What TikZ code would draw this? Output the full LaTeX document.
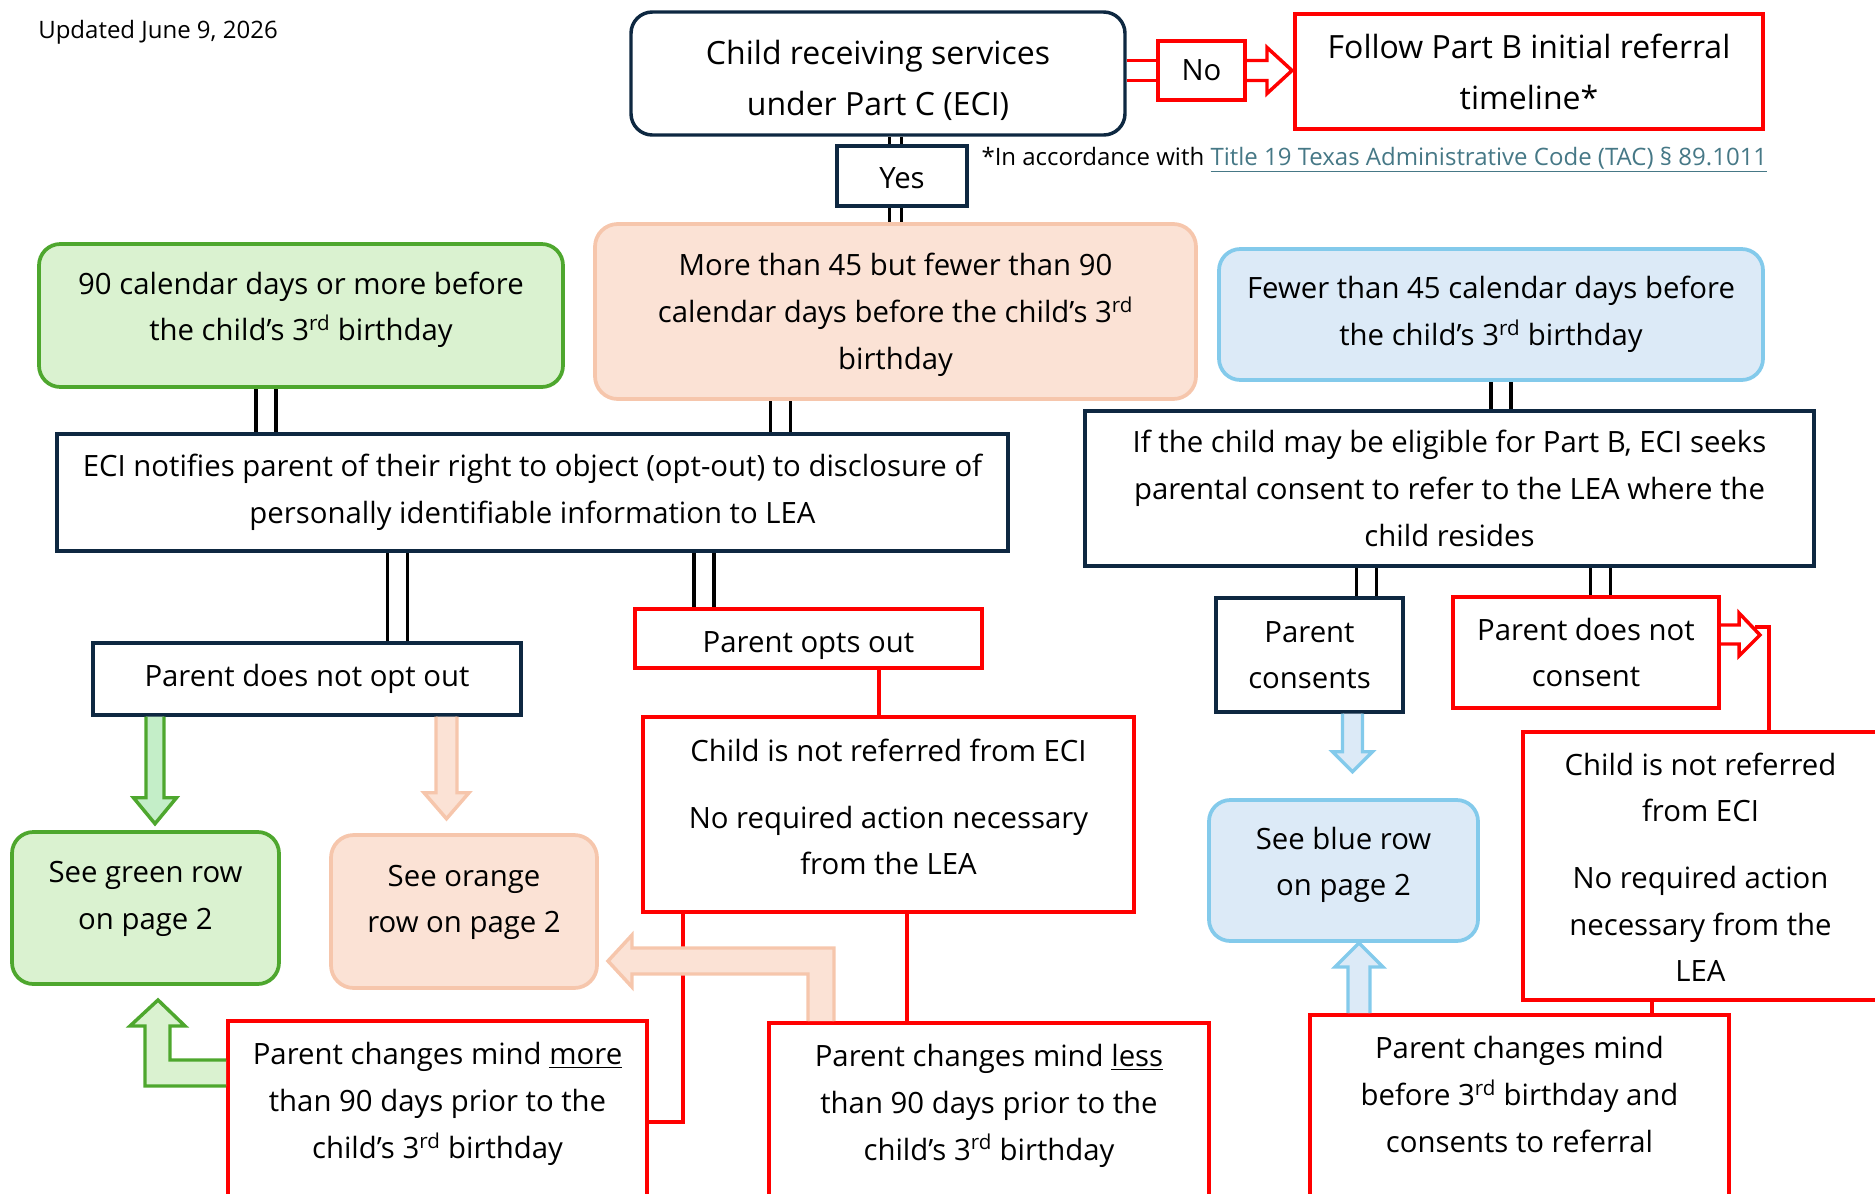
\documentclass[tikz,border=0pt]{standalone}
\usepackage{fontspec}
\setmainfont{Open Sans}
\usetikzlibrary{calc,backgrounds}

\definecolor{navy}{RGB}{14,40,65}
\definecolor{grnline}{RGB}{78,167,46}
\definecolor{grnfill}{RGB}{218,242,208}
\definecolor{grnarrow}{RGB}{196,238,200}
\definecolor{orgline}{RGB}{246,198,172}
\definecolor{orgfill}{RGB}{251,226,213}
\definecolor{bluline}{RGB}{131,202,235}
\definecolor{blufill}{RGB}{220,234,247}
\definecolor{link}{RGB}{70,120,134}

\newcommand{\boxfont}{\fontsize{22}{35}\selectfont}
\newcommand{\headfont}{\fontsize{24}{38.5}\selectfont}
\newcommand{\notefont}{\fontsize{18}{22}\selectfont}
\newcommand{\rd}{3\textsuperscript{rd}}
% move a stack of centred lines up or down, keeping the box size
\newcommand{\lift}[2]{\raisebox{#1}[\height][\depth]{\begin{tabular}{@{}c@{}}#2\end{tabular}}}

\tikzset{every picture/.style={line width=0.75pt}}
\tikzset{
	sz/.style 2 args={minimum width=#1*0.75pt, minimum height=#2*0.75pt},
	txt/.style={align=center, inner sep=0pt, font=\boxfont, text=black},
	navybox/.style={txt, draw=navy, line width=2.6pt, fill=white},
	redbox/.style={txt, draw=red, line width=3pt, fill=white},
	greenbox/.style={txt, draw=grnline, fill=grnfill, line width=2.8pt, rounded corners=16pt},
	orangebox/.style={txt, draw=orgline, fill=orgfill, line width=2.8pt, rounded corners=17pt},
	bluebox/.style={txt, draw=bluline, fill=blufill, line width=2.8pt, rounded corners=16pt},
	dbl/.style={draw=black, line width=2.6pt, double=white, double distance=#1},
	dbl/.default=12.4pt,
	redline/.style={draw=red, line width=3pt},
	redband/.style={draw=red, line width=2.6pt, double=white, double distance=12.4pt},
	redarrow/.style={draw=red, fill=white, line width=2.6pt},
	greenarrow/.style={draw=grnline, fill=#1, line width=2.6pt},
	greenarrow/.default=grnarrow,
	orangearrow/.style={draw=orgline, fill=orgfill, line width=2.6pt},
	bluearrow/.style={draw=bluline, fill=blufill, line width=2.6pt}
}

\begin{document}
\begin{tikzpicture}[x=0.75pt,y=0.75pt,yscale=-1,xscale=1]
	\useasboundingbox (0,0) rectangle (1875,1193);

	% Text Node
	\node (upd) [font=\notefont, inner sep=0pt] at (158,32.5) {Updated June 9, 2026};

	%Shape: Rounded Rect
	\node (top) [navybox, rounded corners=16pt, font=\headfont, sz={494}{123}] at (878,73.5) {\lift{-4.5pt}{Child receiving services\\under Part C (ECI)}};
	%Shape: Rectangle
	\node (no) [redbox, sz={87}{59}] at (1201.5,70.5) {No};
	%Shape: Rectangle
	\node (follow) [redbox, font=\headfont, sz={468}{115}] at (1529,71.5) {\lift{-1.5pt}{Follow Part B initial referral\\timeline*}};
	% Text Node
	\node (note) [anchor=west, font=\notefont, inner sep=0pt] at (981,160) {*In accordance with \textcolor{link}{\underline{Title 19 Texas Administrative Code (TAC) § 89.1011}}};
	%Shape: Rectangle
	\node (yes) [navybox, sz={130}{60}] at (902,176) {\lift{-2.7pt}{Yes}};

	%Shape: Rounded Rect
	\node (green) [greenbox, sz={524}{143}] at (301,315.5) {\lift{5.4pt}{90 calendar days or more before\\the child’s \rd{} birthday}};
	%Shape: Rounded Rect
	\node (mid) [orangebox, sz={601}{175}] at (895.5,311.5) {\lift{-1.3pt}{More than 45 but fewer than 90\\calendar days before the child’s \rd\\birthday}};
	%Shape: Rounded Rect
	\node (blue) [bluebox, sz={544}{131}] at (1491,314.5) {Fewer than 45 calendar days before\\the child’s \rd{} birthday};

	%Shape: Rectangle
	\node (eci) [navybox, sz={951}{117}] at (532.5,492.5) {ECI notifies parent of their right to object (opt-out) to disclosure of\\personally identifiable information to LEA};
	%Shape: Rectangle
	\node (ifb) [navybox, sz={729}{155}] at (1449.5,488.5) {If the child may be eligible for Part B, ECI seeks\\parental consent to refer to the LEA where the\\child resides};

	%Shape: Rectangle
	\node (notopt) [navybox, sz={428}{72}] at (307,679) {Parent does not opt out};
	%Shape: Rectangle
	\node (optsout) [redbox, sz={347}{59}] at (808.5,638.5) {\lift{-3.6pt}{Parent opts out}};
	%Shape: Rectangle
	\node (childL) [redbox, sz={491}{195}] at (888.5,814.5) {\lift{4.2pt}{Child is not referred from ECI\\[15pt]No required action necessary\\from the LEA}};
	%Shape: Rectangle
	\node (consents) [navybox, sz={187}{114}] at (1309.5,655) {Parent\\consents};
	%Shape: Rectangle
	\node (dnc) [redbox, sz={266}{111}] at (1586,652.5) {Parent does not\\consent};
	%Shape: Rectangle
	\node (childR) [redbox, sz={355}{268}] at (1700.5,866) {\lift{-2.4pt}{Child is not referred\\from ECI\\[15pt]No required action\\necessary from the\\LEA}};

	%Shape: Rounded Rect
	\node (seegreen) [greenbox, sz={267}{152}] at (145.5,908) {\lift{8.5pt}{See green row\\on page 2}};
	%Shape: Rounded Rect
	\node (seeorange) [orangebox, sz={266}{153}] at (464,911.5) {\lift{8.5pt}{See orange\\row on page 2}};
	%Shape: Rounded Rect
	\node (seeblue) [bluebox, sz={269}{141}] at (1343.5,870.5) {\lift{5.4pt}{See blue row\\on page 2}};

	%Shape: Rectangle
	\node (more) [redbox, sz={419}{176}] at (437.5,1109) {\lift{5.1pt}{Parent changes mind \underline{more}\\than 90 days prior to the\\child’s \rd{} birthday}};
	%Shape: Rectangle
	\node (less) [redbox, sz={440}{174}] at (989,1110) {\lift{4.5pt}{Parent changes mind \underline{less}\\than 90 days prior to the\\child’s \rd{} birthday}};
	%Shape: Rectangle
	\node (before) [redbox, sz={419}{182}] at (1519.5,1106) {\lift{7.5pt}{Parent changes mind\\before \rd{} birthday and\\consents to referral}};

	\begin{scope}[on background layer]
		% double connectors
		\draw[dbl=6.4pt] (top.south -| mid.north) -- (yes.north -| mid.north);
		\draw[dbl=6.4pt] (yes.south -| mid.north) -- (mid.north);
		\draw[dbl] ($(green.south)+(-35,0)$) -- ($(green.south |- eci.north)+(-35,0)$);
		\draw[dbl] ($(mid.south)+(-115,0)$) -- ($(mid.south |- eci.north)+(-115,0)$);
		\draw[dbl] ($(notopt.north)+(90.5,0)$) -- ($(notopt.north |- eci.south)+(90.5,0)$);
		\draw[dbl] ($(optsout.north)+(-104.5,0)$) -- ($(optsout.north |- eci.south)+(-104.5,0)$);
		\draw[dbl] ($(blue.south)+(10,0)$) -- ($(blue.south |- ifb.north)+(10,0)$);
		\draw[dbl] ($(consents.north)+(57,0)$) -- ($(consents.north |- ifb.south)+(57,0)$);
		\draw[dbl] ($(dnc.north)+(14.5,0)$) -- ($(dnc.north |- ifb.south)+(14.5,0)$);
		\draw[redband] (no.west -| top.east) -- (no.west);

		% red connectors
		\draw[redline] ($(optsout.south)+(70.5,0)$) -- ($(optsout.south |- childL.north)+(70.5,0)$);
		\draw[redline] ($(childL.south)+(18.5,0)$) -- ($(childL.south |- less.north)+(18.5,0)$);
		\draw[redline] ($(childL.south)+(-205.5,0)$) |- ($(more.north east)+(0,103)$);
		\draw[redline] ($(dnc.north east)+(34,32)$) -| ($(childR.north west)+(248,0)$);
		\draw[redline] ($(childR.south)+(-49,0)$) -- ($(childR.south |- before.north)+(-49,0)$);
	\end{scope}

	% block arrows
	\draw[redarrow] ($(no.east)+(0,-10)$) -- ++(20,0) -- ++(0,-13) -- ++(25,23) -- ++(-25,23) -- ++(0,-13) -- ++(-20,0);
	\draw[redarrow] ($(dnc.north east)+(0,30)$) -- ++(18,0) -- ++(0,-12) -- ++(21,22) -- ++(-21,21) -- ++(0,-12) -- ++(-18,0);
	\draw[greenarrow] ($(notopt.south)+(-161,0)$) -- ++(0,81) -- ++(-12.5,0) -- ++(21.5,26) -- ++(21.5,-26) -- ++(-12.5,0) -- ++(0,-81);
	\draw[orangearrow] ($(notopt.south)+(129,0)$) -- ++(0,76) -- ++(-12,0) -- ++(22.5,26) -- ++(22.5,-26) -- ++(-12,0) -- ++(0,-76);
	\draw[bluearrow] ($(consents.south)+(33,0)$) -- ++(0,38) -- ++(-10,0) -- ++(20,20) -- ++(20,-20) -- ++(-10,0) -- ++(0,-38);
	\draw[bluearrow] ($(before.north)+(-171.5,0)$) -- ++(0,-46) -- ++(-13,0) -- ++(24,-24) -- ++(24,24) -- ++(-13,0) -- ++(0,46);
	\draw[greenarrow=grnfill] ($(more.north west)+(0,41)$) -- ++(-56,0) -- ++(0,-34) -- ++(15,0) -- ++(-27,-26) -- ++(-28,26) -- ++(15,0) -- ++(0,60) -- ++(81,0);
	\draw[orangearrow] ($(less.north west)+(67,0)$) -- ++(0,-73) -- ++(-202,0) -- ++(0,-13) -- ++(-24,26) -- ++(24,26) -- ++(0,-13) -- ++(176,0) -- ++(0,47);

\end{tikzpicture}
\end{document}
